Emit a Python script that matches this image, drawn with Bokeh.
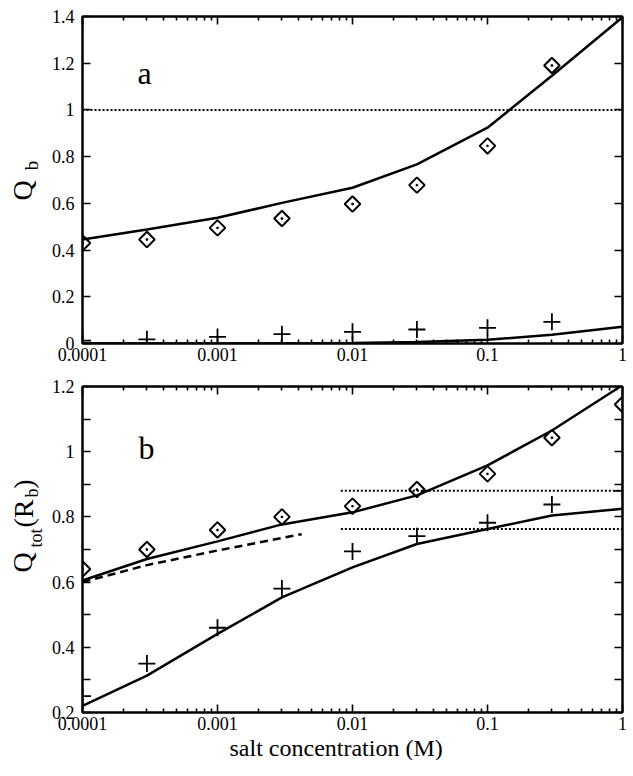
from math import pi
from bokeh.plotting import figure
from bokeh.layouts import column, row
from bokeh.models import Label, LogAxis, LinearAxis, FixedTicker, Range1d, Title
from bokeh.embed import file_html
from bokeh.resources import INLINE

FONT = "Liberation Serif"

# ---------------- data ----------------
salt_conc = [1e-4, 3e-4, 1e-3, 3e-3, 1e-2, 3e-2, 1e-1, 3e-1, 1.0]
x_ticks = [1e-4, 1e-3, 1e-2, 1e-1, 1.0]
x_tick_labels = ["0.0001", "0.001", "0.01", "0.1", "1"]
x_minor_ticks = [m * 10.0 ** e for e in range(-4, 0) for m in range(2, 10)]
x_label = "salt concentration (M)"

# panel a : Q_b
a_diamond_x = [1e-4, 3e-4, 1e-3, 3e-3, 1e-2, 3e-2, 1e-1, 3e-1]
a_diamond_y = [0.43, 0.445, 0.495, 0.535, 0.597, 0.678, 0.846, 1.19]
a_plus_x = [1e-4, 3e-4, 1e-3, 3e-3, 1e-2, 3e-2, 1e-1, 3e-1]
a_plus_y = [0.012, 0.018, 0.028, 0.04, 0.05, 0.06, 0.067, 0.093]
a_line_upper = [0.445, 0.488, 0.538, 0.602, 0.667, 0.767, 0.924, 1.146, 1.397]
a_line_lower = [0.0, 0.0, 0.0, 0.0, 0.002, 0.006, 0.016, 0.037, 0.072]
a_ref_x = [1e-4, 1.0]
a_ref_y = [1.0, 1.0]
a_y_ticks = [0, 0.2, 0.4, 0.6, 0.8, 1.0, 1.2, 1.4]
a_y_tick_labels = ["0", "0.2", "0.4", "0.6", "0.8", "1", "1.2", "1.4"]

# panel b : Q_tot (R_b)
b_diamond_x = [1e-4, 3e-4, 1e-3, 3e-3, 1e-2, 3e-2, 1e-1, 3e-1, 1.0]
b_diamond_y = [0.64, 0.70, 0.76, 0.80, 0.833, 0.884, 0.932, 1.043, 1.145]
b_plus_x = [1e-4, 3e-4, 1e-3, 3e-3, 1e-2, 3e-2, 1e-1, 3e-1, 1.0]
b_plus_y = [0.25, 0.35, 0.46, 0.58, 0.694, 0.741, 0.782, 0.838, 0.88]
b_line_upper = [0.605, 0.671, 0.725, 0.777, 0.814, 0.866, 0.958, 1.065, 1.204]
b_line_lower = [0.22, 0.313, 0.441, 0.553, 0.645, 0.717, 0.763, 0.804, 0.825]
b_dash_x = [1e-4, 3e-4, 1e-3, 4.2e-3]
b_dash_y = [0.60, 0.652, 0.697, 0.747]
b_ref_x = [8.2e-3, 1.0]
b_ref_upper_y = [0.88, 0.88]
b_ref_lower_y = [0.763, 0.763]
b_y_ticks = [0.2, 0.4, 0.6, 0.8, 1.0, 1.2]
b_y_minor = [0.3, 0.5, 0.7, 0.9, 1.1]
b_y_tick_labels = ["0.2", "0.4", "0.6", "0.8", "1", "1.2"]

SIDE_W = 48


def style_axis(ax, major_in=8, minor_in=4, labels=True):
    ax.axis_line_width = 2
    ax.axis_line_color = "black"
    ax.major_tick_in = major_in
    ax.major_tick_out = 0
    ax.minor_tick_in = minor_in
    ax.minor_tick_out = 0
    ax.major_tick_line_width = 1.6
    ax.minor_tick_line_width = 1.6
    ax.major_tick_line_color = "black"
    ax.minor_tick_line_color = "black"
    ax.major_label_text_font = FONT
    if labels:
        ax.major_label_text_font_size = "18px"
        ax.major_label_text_color = "black"
    else:
        ax.major_label_text_font_size = "1px"
        ax.major_label_text_alpha = 0
        ax.major_label_standoff = 0


def make_fig(frame_h, yr, ymajor, ylabels, yminor, ymin_in, top_border, bottom_border):
    p = figure(frame_width=540, frame_height=frame_h, x_axis_type="log",
               x_range=Range1d(1e-4, 1.0), y_range=Range1d(*yr),
               output_backend="svg", toolbar_location=None,
               min_border_left=81 - SIDE_W, min_border_right=10,
               min_border_top=top_border, min_border_bottom=bottom_border)
    p.xgrid.visible = False
    p.ygrid.visible = False
    p.outline_line_color = "black"
    p.outline_line_width = 2
    p.background_fill_color = "white"
    p.border_fill_color = "white"

    p.xaxis.ticker = FixedTicker(ticks=x_ticks, minor_ticks=x_minor_ticks)
    p.xaxis.major_label_overrides = dict(zip(x_ticks, x_tick_labels))
    style_axis(p.xaxis[0])
    p.xaxis.major_label_standoff = 4

    p.yaxis.ticker = FixedTicker(ticks=ymajor, minor_ticks=yminor)
    p.yaxis.major_label_overrides = dict(zip(ymajor, ylabels))
    style_axis(p.yaxis[0], minor_in=ymin_in)
    p.yaxis.major_label_standoff = 8

    top = LogAxis(ticker=FixedTicker(ticks=x_ticks, minor_ticks=x_minor_ticks))
    style_axis(top, labels=False)
    p.add_layout(top, "above")
    right = LinearAxis(ticker=FixedTicker(ticks=ymajor, minor_ticks=yminor))
    style_axis(right, minor_in=ymin_in, labels=False)
    p.add_layout(right, "right")
    return p


def blank(frame_h, top_border, bottom_border):
    f = figure(width=SIDE_W, height=top_border + frame_h + bottom_border,
               x_range=Range1d(0, SIDE_W), y_range=Range1d(0, frame_h),
               x_axis_location=None, y_axis_location=None, toolbar_location=None,
               output_backend="svg", min_border_left=0, min_border_right=0,
               min_border_top=top_border, min_border_bottom=bottom_border)
    f.xgrid.visible = False
    f.ygrid.visible = False
    f.outline_line_color = None
    return f


def lbl(p, x, y, text, size, angle=0.0, align="left", baseline="alphabetic"):
    p.add_layout(Label(x=x, y=y, x_units="screen", y_units="screen", text=text,
                       angle=angle, text_font=FONT, text_font_size=size,
                       text_color="black", text_baseline=baseline,
                       text_align=align))


def vlbl(p, x, y, text, size):
    # rotated text, anchored at its centre (y measured up from the frame bottom)
    lbl(p, x, y, text, size, pi / 2, "center", "middle")


# ---------------- panel a ----------------
pa = make_fig(327, (0, 1.4), a_y_ticks, a_y_tick_labels, [], 0, 16, 33)
pa.line(a_ref_x, a_ref_y, line_color="black", line_width=2, line_dash="2 2")
pa.line(salt_conc, a_line_upper, line_color="black", line_width=2.5)
pa.line(salt_conc, a_line_lower, line_color="black", line_width=2.5)
pa.scatter(a_diamond_x, a_diamond_y, marker="square_dot", angle=pi / 4, size=11,
           fill_color=None, line_color="black", line_width=2)
pa.scatter(a_plus_x, a_plus_y, marker="cross", size=17, line_color="black", line_width=1.8)
lbl(pa, 55, 271, "a", "32px")

la = blank(327, 16, 33)
vlbl(la, 21.5, 153, "Q", "28px")
vlbl(la, 30.5, 178, "b", "19px")

# ---------------- panel b ----------------
pb = make_fig(326, (0.2, 1.2), b_y_ticks, b_y_tick_labels, b_y_minor, 8, 10, 28)
pb.line(b_ref_x, b_ref_upper_y, line_color="black", line_width=2, line_dash="2 2")
pb.line(b_ref_x, b_ref_lower_y, line_color="black", line_width=2, line_dash="2 2")
pb.line(b_dash_x, b_dash_y, line_color="black", line_width=2.5, line_dash="8 5")
pb.line(salt_conc, b_line_upper, line_color="black", line_width=2.5)
pb.line(salt_conc, b_line_lower, line_color="black", line_width=2.5)
pb.scatter(b_diamond_x, b_diamond_y, marker="square_dot", angle=pi / 4, size=11,
           fill_color=None, line_color="black", line_width=2)
pb.scatter(b_plus_x, b_plus_y, marker="cross", size=17, line_color="black", line_width=1.8)
lbl(pb, 56, 265, "b", "32px")
pb.add_layout(Title(text=x_label, align="left", offset=147, standoff=0,
                    text_font=FONT, text_font_size="24px", text_font_style="normal",
                    text_color="black"), "below")

lb = blank(326, 10, 28)
vlbl(lb, 21.5, 130, "Q", "28px")
vlbl(lb, 35, 154.5, "tot", "18px")
vlbl(lb, 22.5, 179, "(R", "28px")
vlbl(lb, 31, 199.5, "b", "18px")
vlbl(lb, 22.5, 208.5, ")", "28px")

layout = column(row(la, pa), row(lb, pb))
open("out.html", "w").write(file_html(layout, INLINE))
